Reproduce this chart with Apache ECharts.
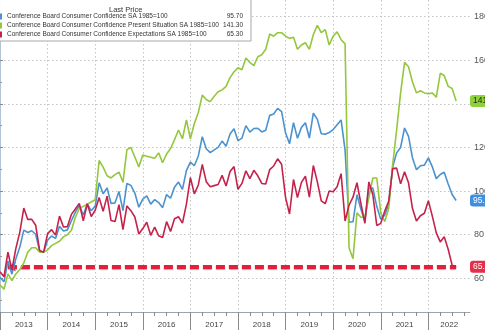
<!DOCTYPE html>
<html>
<head>
<meta charset="utf-8">
<script src="https://cdn.jsdelivr.net/npm/echarts@6/dist/echarts.min.js"></script>
<style>
  html, body { margin: 0; padding: 0; background: #fff; }
  #chart { width: 485px; height: 330px; }
</style>
</head>
<body>
<div id="chart"></div>
<script>
// Monthly readings, Dec 2012 .. Jul 2022 (index 0 = Dec 2012, plotted at month end)
const firstYear = 2012, firstMonth = 12;

const seriesNames = [
  'Conference Board Consumer Confidence SA 1985=100',
  'Conference Board Consumer Confidence Present Situation SA 1985=100',
  'Conference Board Consumer Confidence Expectations SA 1985=100'
];

const confidence = [
  60.5,
  58.4, 68.0, 61.9, 69.0, 74.3, 82.1, 81.0, 81.8, 80.2, 72.4, 72.0, 77.5,
  79.4, 78.3, 83.9, 81.7, 82.2, 86.4, 90.3, 93.4, 89.0, 94.1, 91.0, 93.1,
  103.8, 98.8, 101.4, 94.3, 94.6, 99.8, 91.0, 103.5, 102.6, 99.1, 92.6, 96.3,
  97.8, 94.0, 96.1, 94.7, 92.4, 98.4, 96.7, 101.8, 104.1, 100.8, 109.4, 113.3,
  111.6, 116.1, 124.9, 119.4, 117.6, 118.9, 120.0, 122.9, 120.6, 126.2, 128.6, 123.1,
  124.3, 130.0, 127.0, 128.7, 128.8, 127.1, 127.9, 134.7, 135.3, 137.9, 136.4, 126.6,
  121.7, 131.4, 124.2, 129.2, 131.3, 124.3, 135.7, 133.0, 126.3, 126.1, 126.8, 128.2,
  130.4, 132.6, 118.8, 85.7, 85.9, 98.3, 91.7, 86.3, 101.3, 101.4, 92.9, 87.1,
  88.9, 94.0, 111.0, 117.5, 120.0, 128.9, 125.1, 115.2, 109.8, 111.6, 111.9, 115.2,
  111.1, 105.7, 107.6, 108.6, 103.2, 98.4, 95.7
];

const presentSituation = [
  57,
  55, 62, 59, 62, 64, 67, 72, 74, 74, 72, 72, 73,
  75, 76, 77, 79, 80, 82, 88, 92, 93, 94, 95, 96,
  114, 111, 107, 106, 107.5, 108.7, 104, 119, 120, 115.6, 111, 116.5,
  116, 115.5, 115, 117.5, 113, 117, 119.5, 123.5, 128, 124, 132.6, 124,
  131, 136, 144, 142, 141, 143.5, 145.5, 146.4, 148, 152, 154.7, 156.5,
  155.6, 161, 159, 157.5, 161.6, 162.5, 165, 172, 171, 172.6, 172.6, 171,
  170, 170.5, 165, 167, 168, 165, 171.7, 176, 172.6, 174, 167, 171,
  173, 169.4, 167.5, 74, 69, 90, 88, 88, 97, 106, 106, 90,
  86, 92, 112, 128, 145, 159, 157, 150, 145, 146, 145, 144.6,
  145, 143, 154, 153, 148, 147, 141.3
];

const expectations = [
  63,
  60.7, 72.0, 63.8, 73.7, 81.2, 92.2, 87.0, 87.0, 84.3, 72.7, 72.0, 80.5,
  82.3, 79.8, 88.5, 83.5, 83.7, 89.3, 91.8, 94.3, 86.3, 94.2, 88.3, 91.2,
  97.0, 90.7, 97.7, 86.5, 86.0, 93.8, 82.3, 93.2, 91.0, 88.1, 80.3, 82.8,
  85.7, 79.7, 83.5, 79.5, 78.7, 86.0, 81.5, 87.3, 88.2, 85.3, 94.0, 106.2,
  98.7, 102.8, 112.2, 104.3, 102.0, 102.5, 103.0, 107.2, 102.3, 109.0, 111.2, 100.8,
  103.5, 109.3, 105.7, 109.5, 107.0, 103.5, 103.2, 109.8, 111.5, 114.8, 112.3, 97.0,
  89.5, 105.3, 97.0, 104.0, 106.8, 97.2, 111.7, 104.3, 95.5, 94.2, 100.0, 99.7,
  102.0, 108.0, 86.3, 93.5, 97.2, 103.8, 94.2, 85.2, 104.2, 98.3, 84.2, 85.2,
  90.8, 95.3, 110.3, 110.5, 103.3, 108.8, 103.8, 92.0, 86.3, 88.7, 89.8, 95.6,
  88.5, 80.8, 76.7, 79.0, 73.3, 66.0, 65.3
];

const yearLabels = ['2013', '2014', '2015', '2016', '2017', '2018', '2019', '2020', '2021', '2022'];
const valueTicks = [60, 80, 100, 120, 140, 160, 180];
const valueMinorTicks = [50, 70, 90, 110, 130, 150, 170];

// Expectations reference level and the month where the dashed marker begins
const refLevel = 65.3;
const refStart = '2013-02';

// ---- axis geometry in months counted from 1 Jan 2013 ----
const xMin = 0, xMax = 118.5;
const monthKeys = confidence.map((_, i) => {
  const m = firstMonth - 1 + i;
  return (firstYear + Math.floor(m / 12)) + '-' + String((m % 12) + 1).padStart(2, '0');
});
const pos = i => i;                       // month-end position of reading i
const pairs = arr => arr.map((v, i) => [pos(i), v]);

const yearStarts = yearLabels.map((_, k) => k * 12);
const yearCentres = yearLabels.map((_, k) => (k * 12 + Math.min(k * 12 + 12, xMax)) / 2);
const quarterTicks = [];
for (let q = 3; q < xMax; q += 3) if (q % 12 !== 0) quarterTicks.push(q);

const colors = ['#4b92cf', '#94c73d', '#c5224b'];
const tagColors = ['#3f8ee0', '#8fd13c', '#e2304c'];
const tagText = ['#ffffff', '#1d2a10', '#ffffff'];
const font = 'Liberation Sans, Arial, sans-serif';

const lastVals = [confidence, presentSituation, expectations].map(a => a[a.length - 1]);
const legendVals = {};
seriesNames.forEach((n, k) => { legendVals[n] = lastVals[k].toFixed(2); });

function makeSeries(k, arr) {
  return {
    name: seriesNames[k],
    type: 'line',
    data: pairs(arr),
    showSymbol: false,
    symbol: 'none',
    lineStyle: { width: 1.6, color: colors[k] },
    itemStyle: { color: colors[k] },
    z: 3 + k,
    markPoint: {
      silent: true,
      symbol: 'rect',
      symbolSize: 0,
      data: [{ coord: [xMax, lastVals[k]], value: lastVals[k] }],
      label: {
        show: true,
        position: 'right',
        distance: 0,
        formatter: () => lastVals[k].toFixed(2),
        backgroundColor: tagColors[k],
        color: tagText[k],
        fontFamily: font,
        fontSize: 8.5,
        lineHeight: 11,
        padding: [1, 3, 0, 3],
        borderRadius: 3
      },
      z: 10
    }
  };
}

const series = [
  makeSeries(0, confidence),
  makeSeries(1, presentSituation),
  makeSeries(2, expectations)
];
const refIdx = monthKeys.indexOf(refStart);
series[2].markLine = {
  silent: true,
  symbol: ['arrow', 'none'],
  symbolSize: [7, 8],
  label: { show: false },
  lineStyle: {
    color: '#e2203e', width: 4, type: [9, 4],
    shadowColor: 'rgba(90,0,10,0.35)', shadowBlur: 1, shadowOffsetY: 1
  },
  data: [[
    { coord: [pos(refIdx), refLevel] },
    { coord: [pos(monthKeys.length - 1), refLevel] }
  ]],
  z: 2
};

const chart = echarts.init(document.getElementById('chart'), null, { renderer: 'canvas' });
chart.setOption({
  animation: false,
  backgroundColor: '#ffffff',
  textStyle: { fontFamily: font },
  title: {
    text: 'Last Price',
    left: 104, top: 1,
    z: 10,
    textStyle: { fontFamily: font, fontSize: 7.5, fontWeight: 'normal', color: '#333' }
  },
  legend: {
    data: seriesNames,
    orient: 'vertical',
    left: -1, top: -1,
    padding: [14, 8, 3, 0],
    itemGap: 2,
    itemWidth: 3,
    itemHeight: 6,
    icon: 'rect',
    selectedMode: false,
    backgroundColor: 'rgba(255,255,255,0.96)',
    borderColor: '#a8a8a8',
    borderWidth: 1,
    z: 8,
    formatter: name => '{n|' + name + '}{v|' + legendVals[name] + '}',
    textStyle: {
      fontFamily: font, fontSize: 6.5, color: '#333', lineHeight: 7,
      rich: {
        n: { width: 214, fontSize: 6.5, lineHeight: 7, fontFamily: font, color: '#333' },
        v: { width: 22, align: 'right', fontSize: 6.5, lineHeight: 7, fontFamily: font, color: '#333' }
      }
    }
  },
  grid: { left: 0, right: 15, top: 0, bottom: 18, containLabel: false, outerBoundsMode: 'none' },
  xAxis: [
    {
      type: 'value', min: xMin, max: xMax, position: 'bottom',
      axisLine: { show: true, lineStyle: { color: '#9aa4ad', width: 1 } },
      axisTick: { show: true, customValues: yearStarts, length: 18, lineStyle: { color: '#8a8a8a' } },
      axisLabel: {
        customValues: yearCentres,
        formatter: v => yearLabels[Math.round((v - 6) / 12)],
        fontSize: 8, color: '#444', margin: 9, fontFamily: font
      },
      splitLine: { show: true, lineStyle: { color: '#c4c4c4', type: [1.5, 2.5], width: 1 } }
    },
    {
      type: 'value', min: xMin, max: xMax, position: 'bottom',
      axisLine: { show: false },
      axisTick: { show: true, customValues: quarterTicks, length: 4, lineStyle: { color: '#8a8a8a' } },
      axisLabel: { show: false },
      splitLine: { show: false }
    }
  ],
  yAxis: [
    {
      type: 'value', position: 'right', min: 44.55, max: 187.6,
      axisLine: { show: true, lineStyle: { color: '#b4c4d4' } },
      axisTick: { show: true, customValues: valueTicks, length: 3, lineStyle: { color: '#888' } },
      axisLabel: { customValues: valueTicks, fontSize: 9, color: '#555', margin: 4, fontFamily: font },
      splitLine: { show: true, lineStyle: { color: '#c4c4c4', type: [1.5, 2.5], width: 1 } }
    },
    {
      type: 'value', position: 'right', min: 44.55, max: 187.6,
      axisLine: { show: false },
      axisTick: { show: true, customValues: valueMinorTicks, length: 2, lineStyle: { color: '#999' } },
      axisLabel: { show: false },
      splitLine: { show: false }
    }
  ],
  series: series
});
</script>
</body>
</html>
